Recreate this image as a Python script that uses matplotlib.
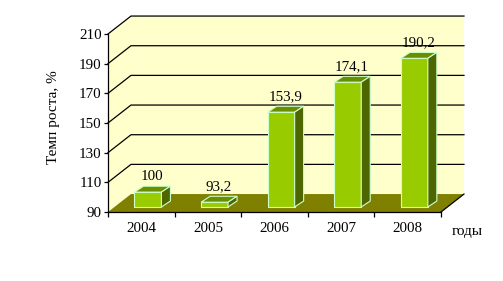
import matplotlib.pyplot as plt
from matplotlib.patches import Polygon
import numpy as np

plt.rcParams['font.family'] = ['Liberation Serif', 'DejaVu Serif']

years = ["2004", "2005", "2006", "2007", "2008"]
growth = [100, 93.2, 153.9, 174.1, 190.2]
labels = ["100", "93,2", "153,9", "174,1", "190,2"]
yticks = [90, 110, 130, 150, 170, 190, 210]

wall = "#FFFFCC"
floor_c = "#808000"
front_c = "#99CC00"
top_c = "#6B8E00"
side_c = "#4D6600"
edge_c = "#CCFFCC"

fig = plt.figure(figsize=(5.03, 2.81), dpi=100)
ax = fig.add_axes([108 / 503, 1 - 212 / 281, 333 / 503, 178 / 281])
ax.patch.set_visible(False)
ax.set_xlim(-0.5, 4.5)
ax.set_ylim(90, 210)

# oblique offsets (data units)
ddx, ddy = 0.345, 12.1   # back wall
sdx, sdy = 0.10, 3.4     # bar position in depth
bdx, bdy = 0.135, 4.0    # bar depth
bw = 0.405

lo, hi = -0.5, 4.5
# side + back wall
ax.add_patch(Polygon([(lo, 90), (lo, 210), (lo + ddx, 210 + ddy), (hi + ddx, 210 + ddy),
                      (hi + ddx, 90 + ddy), (lo + ddx, 90 + ddy)],
                     closed=True, facecolor=wall, edgecolor="none", clip_on=False, zorder=0))
for v in yticks[1:]:
    ax.plot([lo, lo + ddx, hi + ddx], [v, v + ddy, v + ddy], color="black", lw=0.9,
            clip_on=False, zorder=1)
# floor
ax.add_patch(Polygon([(lo, 90), (hi, 90), (hi + ddx, 90 + ddy), (lo + ddx, 90 + ddy)],
                     closed=True, facecolor=floor_c, edgecolor="none", clip_on=False, zorder=2))
ax.plot([hi, hi + ddx], [90, 90 + ddy], color="black", lw=0.9, clip_on=False, zorder=2)

x = np.arange(len(years))
vals = np.array(growth)
ax.bar(x + sdx, vals - 90, bottom=90 + sdy, width=bw, color=front_c,
       edgecolor=edge_c, linewidth=0.8, zorder=3, clip_on=False)
for i, v in enumerate(vals):
    x0 = i + sdx - bw / 2
    x1 = x0 + bw
    y0 = 90 + sdy
    y1 = v + sdy
    ax.add_patch(Polygon([(x0, y1), (x1, y1), (x1 + bdx, y1 + bdy), (x0 + bdx, y1 + bdy)],
                         closed=True, facecolor=top_c, edgecolor=edge_c, lw=0.8,
                         clip_on=False, zorder=3))
    ax.add_patch(Polygon([(x1, y0), (x1 + bdx, y0 + bdy), (x1 + bdx, y1 + bdy), (x1, y1)],
                         closed=True, facecolor=side_c, edgecolor=edge_c, lw=0.8,
                         clip_on=False, zorder=3))
    ax.annotate(labels[i], xy=(i + sdx, y1), xytext=(3, 11.5), textcoords="offset points",
                ha="center", va="center", fontsize=10.8, zorder=4)

for s in ["top", "right"]:
    ax.spines[s].set_visible(False)
for s in ["left", "bottom"]:
    ax.spines[s].set_linewidth(0.9)
    ax.spines[s].set_zorder(5)

ax.set_yticks(yticks)
ax.tick_params(axis="y", length=3, width=0.9, pad=1.5, labelsize=10.8)
ax.set_xticks(x, years)
ax.set_xticks(np.arange(-0.5, 5, 1), minor=True)
ax.tick_params(axis="x", which="major", length=0, pad=7.5, labelsize=10.8)
ax.tick_params(axis="x", which="minor", length=3.5, width=0.9)

fig.text(53 / 503, 1 - 117 / 281, "Темп роста, %", rotation=90, ha="center", va="center",
         fontsize=11)
fig.text(467.5 / 503, 1 - 232 / 281, "годы", ha="center", va="center", fontsize=11)

fig.savefig("out.png", dpi=100)
